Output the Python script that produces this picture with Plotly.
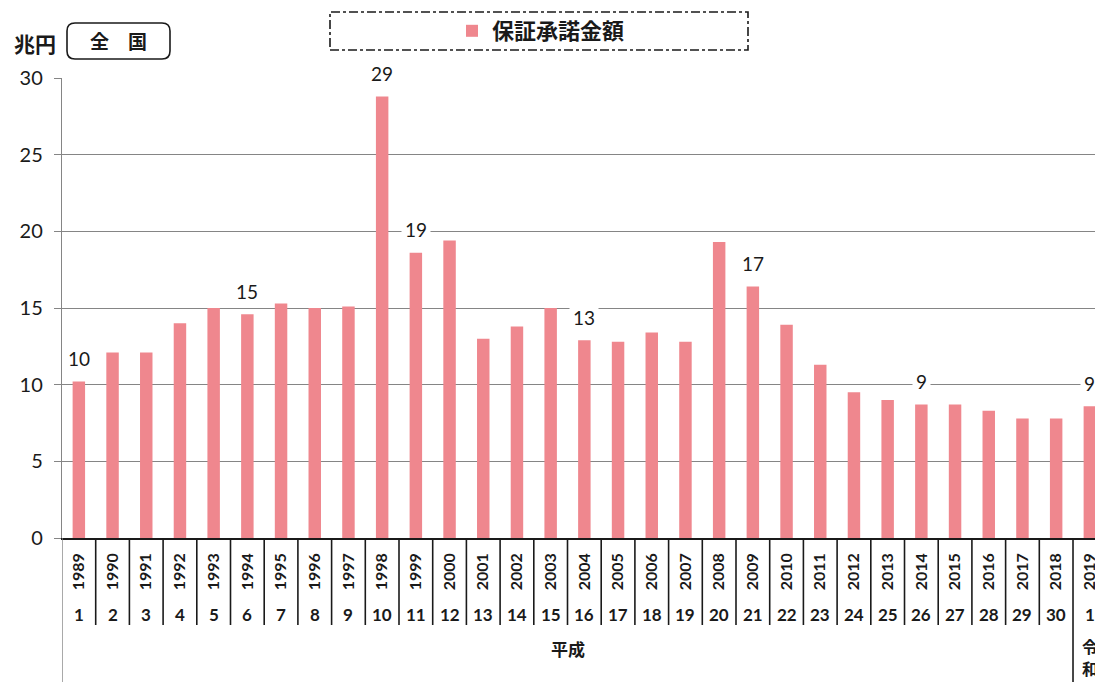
import plotly.graph_objects as go

# ---------------- data ----------------
years = ["1989", "1990", "1991", "1992", "1993", "1994", "1995", "1996", "1997", "1998",
         "1999", "2000", "2001", "2002", "2003", "2004", "2005", "2006", "2007", "2008",
         "2009", "2010", "2011", "2012", "2013", "2014", "2015", "2016", "2017", "2018",
         "2019"]
era_years = ["1", "2", "3", "4", "5", "6", "7", "8", "9", "10",
             "11", "12", "13", "14", "15", "16", "17", "18", "19", "20",
             "21", "22", "23", "24", "25", "26", "27", "28", "29", "30",
             "1"]
values = [10.2, 12.1, 12.1, 14.0, 15.0, 14.6, 15.3, 15.0, 15.1, 28.8,
          18.6, 19.4, 13.0, 13.8, 15.0, 12.9, 12.8, 13.4, 12.8, 19.3,
          16.4, 13.9, 11.3, 9.5, 9.0, 8.7, 8.7, 8.3, 7.8, 7.8,
          8.6]
value_labels = {"1989": "10", "1994": "15", "1998": "29", "1999": "19",
                "2004": "13", "2009": "17", "2014": "9", "2019": "9"}
series_name = "保証承諾金額"
unit_label = "兆円"
region_label = "全　国"
era_heisei = "平成"
era_reiwa = ["令", "和"]
y_ticks = [0, 5, 10, 15, 20, 25, 30]

# ---------------- layout helpers ----------------
OFF = 8                      # page body margin
SW, SH = 1103, 682           # screen size
W, H = SW - OFF, SH - OFF
L, R, T, B = 62 - OFF, 0, 78 - OFF, 144
BAR = "#EF878E"
INK = "#1a1a1a"
GRID = "#858585"
NUM_FONT = "Lato, 'Noto Sans CJK JP', sans-serif"
JP_FONT = "'Noto Sans CJK JP', sans-serif"


def px(x):
    """screen x (reference pixels) -> paper fraction"""
    return (x - OFF - L) / (W - L - R)


def py(y):
    """screen y (reference pixels) -> paper fraction"""
    return (H - B - (y - OFF)) / (H - T - B)


fig = go.Figure()
fig.add_trace(go.Bar(
    x=years, y=values, name=series_name, marker_color=BAR,
    marker_line_width=0, width=0.37, showlegend=True,
))

annotations = []
# value labels
for yr, txt in value_labels.items():
    i = years.index(yr)
    annotations.append(dict(
        x=i, y=values[i], xref="x", yref="y", text=txt,
        showarrow=False, yshift=23, yanchor="middle", bgcolor="white",
        borderpad=3, font=dict(family=NUM_FONT, size=19, color=INK),
    ))
# era year numbers
for i, e in enumerate(era_years):
    annotations.append(dict(
        x=i, y=py(614), xref="x", yref="paper", text=e, showarrow=False,
        yanchor="middle", font=dict(family=NUM_FONT, size=17, color=INK, weight="bold"),
    ))
# era names
annotations.append(dict(
    x=(0 + len(years) - 2) / 2, y=py(648), xref="x", yref="paper", text=era_heisei,
    showarrow=False, yanchor="middle",
    font=dict(family=JP_FONT, size=17, color=INK, weight="bold"),
))
for k, ch in enumerate(era_reiwa):
    annotations.append(dict(
        x=len(years) - 1, y=py(646 + 22 * k), xref="x", yref="paper", text=ch,
        showarrow=False, yanchor="middle",
        font=dict(family=JP_FONT, size=16, color=INK, weight="bold"),
    ))
# unit + region titles
annotations.append(dict(
    x=px(34.5), y=py(43), xref="paper", yref="paper", text=unit_label,
    showarrow=False, xanchor="center", yanchor="middle",
    font=dict(family=JP_FONT, size=21, color=INK, weight="bold"),
))
annotations.append(dict(
    x=px(118), y=py(41), xref="paper", yref="paper", text=region_label,
    showarrow=False, xanchor="center", yanchor="middle",
    font=dict(family=JP_FONT, size=19, color=INK, weight="bold"),
))

shapes = []
# legend dash-dot frame
shapes.append(dict(type="rect", xref="paper", yref="paper",
                   x0=px(330), x1=px(748), y0=py(50), y1=py(12),
                   line=dict(color=INK, width=1.6, dash="dashdot")))
# rounded box around region label
bx0, bx1, by0, by1 = 67, 170, 23, 59
rr = 8
rx = rr / (W - L - R)
ry = rr / (H - T - B)
X0, X1, Y0, Y1 = px(bx0), px(bx1), py(by1), py(by0)
path = (f"M {X0+rx},{Y1} L {X1-rx},{Y1} Q {X1},{Y1} {X1},{Y1-ry} "
        f"L {X1},{Y0+ry} Q {X1},{Y0} {X1-rx},{Y0} L {X0+rx},{Y0} "
        f"Q {X0},{Y0} {X0},{Y0+ry} L {X0},{Y1-ry} Q {X0},{Y1} {X0+rx},{Y1} Z")
shapes.append(dict(type="path", xref="paper", yref="paper", path=path,
                   line=dict(color=INK, width=1.6)))
# category table dividers
for i in range(len(years) - 1):
    bottom = py(690) if i == len(years) - 2 else py(625)
    shapes.append(dict(type="line", xref="x", yref="paper",
                       x0=i + 0.5, x1=i + 0.5, y0=0, y1=bottom,
                       line=dict(color=INK, width=1.6)))
# left table border continuing the y axis line
shapes.append(dict(type="line", xref="x", yref="paper",
                   x0=-0.5, x1=-0.5, y0=0, y1=py(690),
                   line=dict(color=GRID, width=1.4)))

fig.update_layout(
    width=W, height=H,
    margin=dict(l=L, r=R, t=T, b=B, pad=0, autoexpand=False),
    paper_bgcolor="white", plot_bgcolor="white",
    font=dict(family=NUM_FONT, color=INK),
    legend=dict(x=px(452), y=py(31), xanchor="left", yanchor="middle",
                orientation="h", bgcolor="rgba(0,0,0,0)", borderwidth=0,
                font=dict(family=JP_FONT, size=22, color=INK, weight="bold")),
    annotations=annotations,
    shapes=shapes,
    xaxis=dict(type="category", range=[-0.5, 30.39], showgrid=False,
               showline=True, linecolor=INK, linewidth=1.6,
               tickangle=-90, ticks="", ticklabelstandoff=7,
               tickfont=dict(family=NUM_FONT, size=16, color=INK, weight="bold"),
               tickmode="array", tickvals=years, ticktext=years),
    yaxis=dict(range=[0, 30], tickvals=y_ticks, showgrid=True,
               gridcolor=GRID, gridwidth=1.3, zeroline=False,
               showline=True, linecolor=GRID, linewidth=1.4,
               ticks="outside", ticklen=7, tickcolor=GRID, tickwidth=1.3,
               ticklabelstandoff=7,
               tickfont=dict(family=NUM_FONT, size=20, color=INK)),
)

fig.write_html("out.html")
